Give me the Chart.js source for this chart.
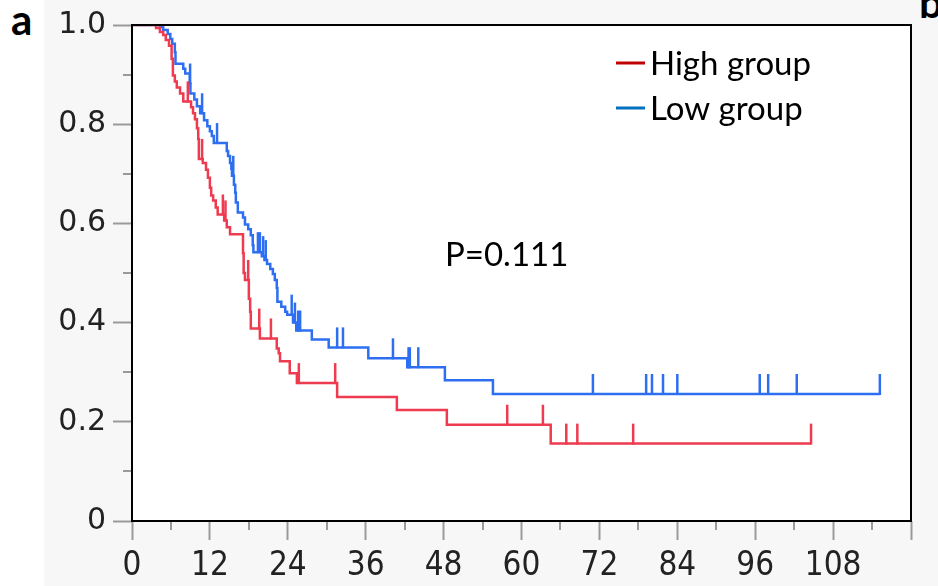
<!DOCTYPE html>
<html lang="en">
<head>
<meta charset="UTF-8">
<title>Survival by group</title>
<script src="https://cdn.jsdelivr.net/npm/chart.js"></script>
<style>
  html, body { margin: 0; padding: 0; background: #fff; }
  #panel { position: absolute; left: 44px; top: 0; width: 894px; height: 586px; background: #f7f7f7; }
  #chartBox { position: absolute; left: 0; top: 0; width: 938px; height: 586px; }
  .tag { position: absolute; font-family: Lato, "Liberation Sans", sans-serif; font-weight: bold;
         font-size: 42px; line-height: 1; color: #000; }
</style>
</head>
<body>
<div id="panel"></div>
<div class="tag" style="left:11px; top:-2px;">a</div>
<div class="tag" style="left:919px; top:-19px;">b</div>
<div id="chartBox"><canvas id="kmChart" width="938" height="586"></canvas></div>

<script>
// High group: event times (months) and survival after each step
const highTimes = [0, 3.7, 4.3, 4.8, 5.2, 5.7, 6.1, 6.3, 6.6, 6.9, 7.4, 7.9, 9.1, 9.4, 9.7, 10.0, 10.2, 10.3,
  10.9, 11.4, 11.7, 12.0, 12.2, 12.5, 12.9, 13.2, 14.2, 14.6, 15.1, 17.1, 17.2, 17.4, 18.0, 18.2, 18.3,
  19.7, 22.3, 22.6, 22.8, 24.3, 25.4, 31.6, 40.8, 48.5, 64.5, 104.6];
const highSurv = [1, 0.994, 0.986, 0.98, 0.97, 0.958, 0.932, 0.898, 0.886, 0.874, 0.862, 0.846, 0.834, 0.822,
  0.81, 0.792, 0.77, 0.73, 0.722, 0.708, 0.692, 0.672, 0.656, 0.646, 0.632, 0.618, 0.606, 0.592, 0.578,
  0.54, 0.50, 0.486, 0.448, 0.422, 0.388, 0.368, 0.348, 0.338, 0.322, 0.298, 0.278, 0.25, 0.224, 0.194,
  0.156, 0.156];
const highCensor = [8.6, 10.8, 14.0, 14.4, 17.9, 19.6, 21.4, 25.7, 31.3, 57.8, 63.3, 66.9, 68.6, 77.2, 104.6];

// Low group
const lowTimes = [0, 4.3, 4.8, 5.5, 5.9, 6.2, 6.6, 6.7, 7.9, 8.2, 8.9, 9.0, 9.6, 10.0, 10.5, 11.1, 11.6,
  12.0, 12.3, 12.6, 14.6, 14.8, 15.1, 15.3, 15.4, 15.7, 15.9, 16.0, 16.3, 17.1, 17.4, 17.9, 18.3, 18.6,
  18.7, 20.0, 20.4, 20.8, 21.3, 21.7, 22.0, 22.3, 22.4, 23.0, 23.6, 23.9, 24.8, 25.3, 27.7, 30.3, 36.4,
  42.4, 48.2, 55.6, 115.2];
const lowSurv = [1, 0.996, 0.99, 0.982, 0.972, 0.962, 0.945, 0.922, 0.912, 0.902, 0.882, 0.862, 0.85, 0.836,
  0.822, 0.808, 0.796, 0.786, 0.776, 0.762, 0.746, 0.736, 0.722, 0.71, 0.696, 0.678, 0.662, 0.642, 0.622,
  0.612, 0.598, 0.588, 0.576, 0.556, 0.542, 0.534, 0.526, 0.518, 0.508, 0.498, 0.486, 0.47, 0.442, 0.432,
  0.422, 0.416, 0.40, 0.384, 0.366, 0.35, 0.328, 0.31, 0.284, 0.256, 0.256];
const lowCensor = [8.95, 10.8, 13.1, 15.6, 19.4, 19.7, 20.2, 20.6, 24.6, 25.1, 25.6, 25.9, 31.6, 32.5, 40.2,
  42.6, 42.8, 44.1, 71.0, 79.2, 80.1, 81.8, 84.0, 96.7, 98.0, 102.4, 115.2];

const groupNames = ['High group', 'Low group'];
const xLabels = [0, 12, 24, 36, 48, 60, 72, 84, 96, 108];
const yLabels = ['0', '0.2', '0.4', '0.6', '0.8', '1.0'];
const pText = 'P=0.111';

const curveColors = ['#ee3b4f', '#2e6ff2'];
const legendColors = ['#c00000', '#0070c0'];
const tickGray = '#9a9a9a';
// where the plot frame should sit on the canvas
const frame = { left: 132, top: 21, right: 911, bottom: 521 };

function toPoints(times, surv) {
  return times.map((t, i) => ({ x: t, y: surv[i] }));
}
function survAt(times, surv, t) {
  let s = surv[0];
  for (let i = 0; i < times.length; i++) if (times[i] <= t) s = surv[i];
  return s;
}

const groups = [
  { times: highTimes, surv: highSurv, censor: highCensor },
  { times: lowTimes, surv: lowSurv, censor: lowCensor }
];

const kmExtras = {
  id: 'kmExtras',
  beforeDraw(chart) {
    const a = chart.chartArea, ctx = chart.ctx;
    ctx.save();
    ctx.fillStyle = '#fff';
    ctx.fillRect(a.left, a.top, a.right - a.left, a.bottom - a.top);
    ctx.restore();
  },
  afterDatasetsDraw(chart) {
    const ctx = chart.ctx, a = chart.chartArea;
    const xs = chart.scales.x, ys = chart.scales.y;
    ctx.save();
    // censor marks
    ctx.lineWidth = 2.5;
    groups.forEach((g, k) => {
      ctx.strokeStyle = curveColors[k];
      g.censor.forEach(t => {
        const px = xs.getPixelForValue(t);
        const py = ys.getPixelForValue(survAt(g.times, g.surv, t));
        ctx.beginPath();
        ctx.moveTo(px, py + 1);
        ctx.lineTo(px, py - 20);
        ctx.stroke();
      });
    });
    // minor ticks
    ctx.strokeStyle = tickGray;
    ctx.lineWidth = 2;
    xs.ticks.forEach((tk, i) => {
      if (i % 2 === 1) {
        const px = Math.round(xs.getPixelForValue(tk.value));
        ctx.beginPath(); ctx.moveTo(px, a.bottom); ctx.lineTo(px, a.bottom + 9); ctx.stroke();
      }
    });
    ys.ticks.forEach((tk, i) => {
      if (i % 2 === 1) {
        const py = Math.round(ys.getPixelForValue(tk.value));
        ctx.beginPath(); ctx.moveTo(a.left - 9, py); ctx.lineTo(a.left, py); ctx.stroke();
      }
    });
    // frame
    ctx.strokeStyle = '#000';
    ctx.lineWidth = 2;
    ctx.strokeRect(a.left, a.top, a.right - a.left, a.bottom - a.top);
    // legend
    ctx.font = '33px Lato, "Liberation Sans", sans-serif';
    ctx.textBaseline = 'alphabetic';
    ctx.fillStyle = '#000';
    groupNames.forEach((name, k) => {
      const y = 63 + k * 45;
      ctx.strokeStyle = legendColors[k];
      ctx.lineWidth = 3;
      ctx.beginPath(); ctx.moveTo(616, y); ctx.lineTo(645, y); ctx.stroke();
      ctx.fillText(name, 650, y + 12);
    });
    ctx.fillText(pText, 445, 266);
    ctx.restore();
  }
};

const chart = new Chart(document.getElementById('kmChart'), {
  type: 'line',
  data: {
    datasets: groups.map((g, k) => ({
      label: groupNames[k],
      data: toPoints(g.times, g.surv),
      borderColor: curveColors[k],
      borderWidth: 2.5,
      stepped: true,
      pointRadius: 0,
      fill: false
    }))
  },
  options: {
    responsive: false,
    animation: false,
    layout: { padding: { top: 21, right: 27, left: 0, bottom: 0 } },
    plugins: { legend: { display: false }, tooltip: { enabled: false } },
    scales: {
      x: {
        type: 'linear', min: 0, max: 120,
        afterFit(s) { s.height = 65; },
        border: { display: false },
        grid: {
          drawOnChartArea: false, drawTicks: true, tickLength: 19, tickWidth: 2,
          tickColor: c => (c.index % 2 === 0 ? tickGray : 'rgba(0,0,0,0)')
        },
        ticks: {
          stepSize: 6, autoSkip: false, maxRotation: 0, padding: 7, color: '#222',
          font: { family: '"DejaVu Sans Condensed", "DejaVu Sans"', size: 33 },
          callback: v => (xLabels.includes(v) ? String(v) : '')
        }
      },
      y: {
        type: 'linear', min: 0, max: 1,
        afterFit(s) { s.width = 132; },
        border: { display: false },
        grid: {
          drawOnChartArea: false, drawTicks: true, tickLength: 19, tickWidth: 2,
          tickColor: c => (c.index % 2 === 0 ? tickGray : 'rgba(0,0,0,0)')
        },
        ticks: {
          stepSize: 0.1, autoSkip: false, padding: 7, color: '#222',
          font: { family: '"DejaVu Sans"', size: 30 },
          callback: (v, i) => (i % 2 === 0 ? yLabels[i / 2] : '')
        }
      }
    }
  },
  plugins: [kmExtras]
});

// nudge padding so the plot frame lands where the reference has it
const pad = chart.options.layout.padding;
const ca = chart.chartArea;
pad.top += frame.top - ca.top;
pad.left += frame.left - ca.left;
pad.right += ca.right - frame.right;
pad.bottom += ca.bottom - frame.bottom;
chart.update();
</script>
</body>
</html>
